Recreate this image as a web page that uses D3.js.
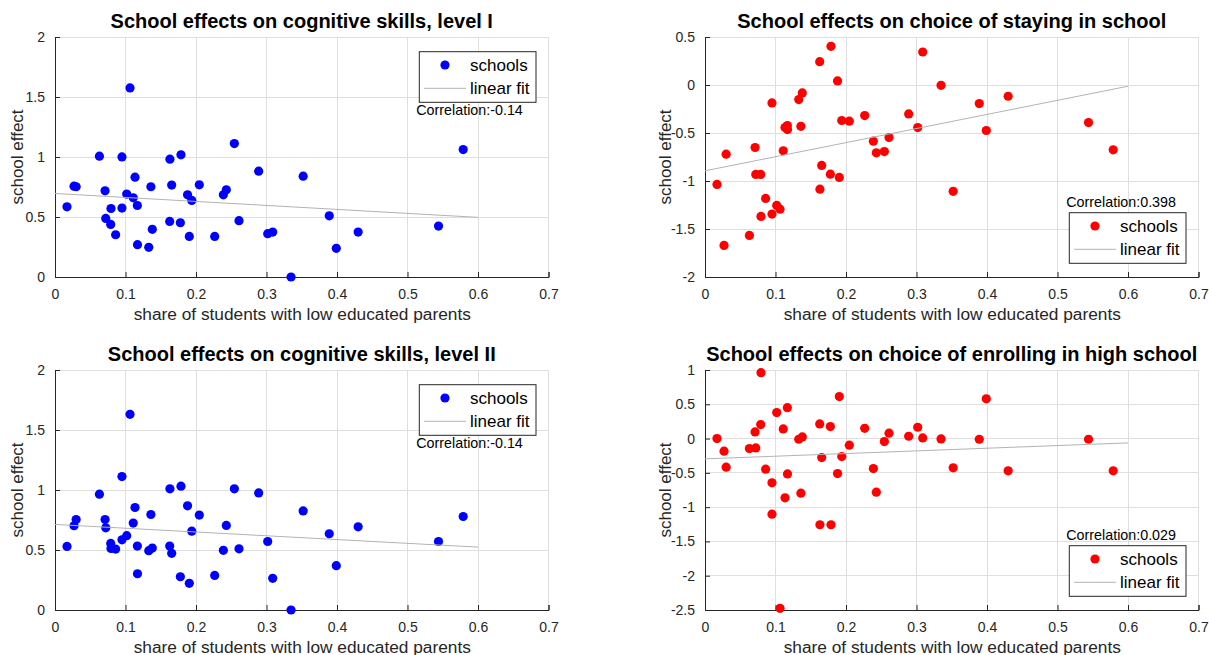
<!DOCTYPE html>
<html>
<head>
<meta charset="utf-8">
<script src="https://cdn.jsdelivr.net/npm/d3@7"></script>
<style>
  body { margin: 0; background: #fff; }
  svg { display: block; }
  text { font-family: "Liberation Sans", Arial, Helvetica, sans-serif; }
</style>
</head>
<body>
<svg id="chart" width="1209" height="655"></svg>
<script>
// Share of students with low educated parents, one entry per school
const share = [0.017, 0.027, 0.030, 0.063, 0.071, 0.072, 0.079, 0.0794, 0.086, 0.095,
  0.095, 0.1017, 0.1064, 0.111, 0.1135, 0.1168, 0.117, 0.133, 0.136, 0.138,
  0.1627, 0.163, 0.1655, 0.1778, 0.1787, 0.188, 0.1905, 0.194, 0.2047, 0.2265,
  0.2388, 0.243, 0.2544, 0.261, 0.2889, 0.3017, 0.3088, 0.3348, 0.352, 0.389,
  0.399, 0.430, 0.544, 0.579];

// Estimated school effects, same school order as `share`
const cogLevel1 = [0.585, 0.757, 0.752, 1.007, 0.718, 0.488, 0.438, 0.571, 0.352, 1.001,
  0.574, 0.691, 1.576, 0.660, 0.832, 0.596, 0.269, 0.247, 0.752, 0.397,
  0.463, 0.982, 0.766, 0.452, 1.018, 0.685, 0.338, 0.638, 0.768, 0.338,
  0.685, 0.727, 1.112, 0.469, 0.882, 0.361, 0.374, 0.000, 0.840, 0.510,
  0.239, 0.374, 0.424, 1.062];

const stayInSchool = [-1.036, -1.671, -0.721, -1.567, -0.651, -0.932, -0.932, -1.369, -1.182, -0.187,
  -1.345, -1.254, -1.293, -0.686, -0.443, -0.422, -0.464, -0.152, -0.430, -0.083,
  0.243, -1.085, -0.838, -0.929, 0.403, 0.042, -0.963, -0.370, -0.377, -0.318,
  -0.585, -0.707, -0.693, -0.547, -0.301, -0.443, 0.344, -0.003, -1.108, -0.193,
  -0.474, -0.117, -0.391, -0.675];

const cogLevel2 = [0.530, 0.702, 0.754, 0.965, 0.754, 0.685, 0.555, 0.513, 0.508, 1.112,
  0.585, 0.619, 1.631, 0.724, 0.854, 0.533, 0.302, 0.494, 0.796, 0.516,
  0.533, 1.010, 0.472, 0.277, 1.032, 0.868, 0.222, 0.657, 0.791, 0.288,
  0.497, 0.705, 1.010, 0.510, 0.976, 0.571, 0.264, 0.000, 0.826, 0.635,
  0.369, 0.693, 0.571, 0.779];

const enrollHighSchool = [0.000, -0.184, -0.417, -0.146, 0.097, -0.136, 0.204, 0.961, -0.447, -0.646,
  -1.102, 0.379, -2.476, 0.141, -0.864, 0.451, -0.515, -0.010, -0.796, 0.024,
  0.214, -1.257, -0.277, 0.175, -1.257, -0.510, 0.612, -0.262, -0.097, 0.150,
  -0.437, -0.782, -0.044, 0.078, 0.034, 0.165, 0.010, -0.005, -0.427, -0.010,
  0.580, -0.470, -0.010, -0.470];

// Linear fit end points, evaluated at fitX
const fitX = [0, 0.6];
const fitCog1 = [0.696, 0.497];
const fitStay = [-0.894, -0.013];
const fitCog2 = [0.713, 0.524];
const fitEnroll = [-0.296, -0.063];

// Axis ticks
const xTicks = [0, 0.1, 0.2, 0.3, 0.4, 0.5, 0.6, 0.7];
const yTicksCog = [0, 0.5, 1, 1.5, 2];
const yTicksStay = [-2, -1.5, -1, -0.5, 0, 0.5];
const yTicksEnroll = [-2.5, -2, -1.5, -1, -0.5, 0, 0.5, 1];

const titles = [
  "School effects on cognitive skills, level I",
  "School effects on choice of staying in school",
  "School effects on cognitive skills, level II",
  "School effects on choice of enrolling in high school"
];
const corrLabels = ["Correlation:-0.14", "Correlation:0.398", "Correlation:-0.14", "Correlation:0.029"];
const xLabel = "share of students with low educated parents";
const yLabel = "school effect";
const legendNames = ["schools", "linear fit"];

const svg = d3.select("#chart");
const AXIS = "#262626", GRID = "#dfdfdf", FIT = "#b3b3b3";

const panels = [
  { x0: 55,  y0: 37,  values: cogLevel1,        fit: fitCog1,   yTicks: yTicksCog,    color: "#0000ff", legend: "ne", ylabOff: 32.5 },
  { x0: 705, y0: 37,  values: stayInSchool,     fit: fitStay,   yTicks: yTicksStay,   color: "#ff0000", legend: "se", ylabOff: 34.5 },
  { x0: 55,  y0: 370, values: cogLevel2,        fit: fitCog2,   yTicks: yTicksCog,    color: "#0000ff", legend: "ne", ylabOff: 32.5 },
  { x0: 705, y0: 370, values: enrollHighSchool, fit: fitEnroll, yTicks: yTicksEnroll, color: "#ff0000", legend: "se", ylabOff: 34.5 }
];
const W = 493.5, H = 240;
const fmt = d => String(d);

panels.forEach((p, i) => {
  const g = svg.append("g").attr("transform", `translate(${p.x0},${p.y0})`);
  const x = d3.scaleLinear().domain([0, 0.7]).range([0, W]);
  const y = d3.scaleLinear().domain(d3.extent(p.yTicks)).range([H, 0]);

  // grid
  g.append("g").selectAll("line").data(xTicks).join("line")
    .attr("x1", d => x(d)).attr("x2", d => x(d)).attr("y1", 0).attr("y2", H)
    .attr("stroke", GRID).attr("stroke-width", 1).attr("shape-rendering", "crispEdges");
  g.append("g").selectAll("line").data(p.yTicks).join("line")
    .attr("y1", d => y(d)).attr("y2", d => y(d)).attr("x1", 0).attr("x2", W)
    .attr("stroke", GRID).attr("stroke-width", 1).attr("shape-rendering", "crispEdges");

  // axes (ticks point inward)
  const xAxis = g.append("g").attr("transform", `translate(0,${H})`)
    .call(d3.axisBottom(x).tickValues(xTicks).tickFormat(fmt).tickSize(-5).tickPadding(12));
  const yAxis = g.append("g")
    .call(d3.axisLeft(y).tickValues(p.yTicks).tickFormat(fmt).tickSize(-5).tickPadding(10));
  [xAxis, yAxis].forEach(a => {
    a.select(".domain").attr("stroke", AXIS).attr("stroke-width", 1);
    a.selectAll(".tick line").attr("stroke", AXIS);
    a.selectAll(".tick text").attr("fill", AXIS).style("font-size", "14px")
      .style("font-family", '"Liberation Sans", Arial, sans-serif');
  });

  // axis labels
  g.append("text").attr("x", W / 2 + 0.5).attr("y", H + 42.5).attr("text-anchor", "middle")
    .attr("fill", AXIS).style("font-size", "17.3px").text(xLabel);
  g.append("text").attr("transform", `translate(${-p.ylabOff},${H / 2}) rotate(-90)`)
    .attr("text-anchor", "middle").attr("fill", AXIS).style("font-size", "17px").text(yLabel);

  // title
  g.append("text").attr("x", W / 2).attr("y", -9.5).attr("text-anchor", "middle")
    .attr("fill", "#000").style("font-size", "20px").style("font-weight", "bold").text(titles[i]);

  // schools
  g.append("g").selectAll("circle").data(share).join("circle")
    .attr("cx", d => x(d)).attr("cy", (d, k) => y(p.values[k])).attr("r", 4.6)
    .attr("fill", p.color);

  // linear fit
  g.append("line")
    .attr("x1", x(fitX[0])).attr("y1", y(p.fit[0]))
    .attr("x2", x(fitX[1])).attr("y2", y(p.fit[1]))
    .attr("stroke", FIT).attr("stroke-width", 1);

  // legend
  const bw = 116.7, bh = 50.6;
  const bx = W - 129.2;
  const by = p.legend === "ne" ? 14.7 : H - 13.7 - bh;
  const lg = g.append("g").attr("transform", `translate(${bx},${by})`);
  lg.append("rect").attr("width", bw).attr("height", bh).attr("fill", "#fff")
    .attr("stroke", AXIS).attr("stroke-width", 1);
  lg.append("circle").attr("cx", 25.7).attr("cy", 13.3).attr("r", 4.6).attr("fill", p.color);
  lg.append("text").attr("x", 50.7).attr("y", 13.3 + 6).attr("fill", "#000")
    .style("font-size", "17px").text(legendNames[0]);
  lg.append("line").attr("x1", 4.7).attr("x2", 46.7).attr("y1", 36.6).attr("y2", 36.6)
    .attr("stroke", FIT).attr("stroke-width", 1);
  lg.append("text").attr("x", 50.7).attr("y", 36.6 + 6).attr("fill", "#000")
    .style("font-size", "17px").text(legendNames[1]);

  // correlation note
  const cy = p.legend === "ne" ? by + bh + 12.7 : by - 5.6;
  g.append("text").attr("x", bx - 3).attr("y", cy).attr("fill", "#000")
    .style("font-size", "14.3px").text(corrLabels[i]);
});
</script>
</body>
</html>
